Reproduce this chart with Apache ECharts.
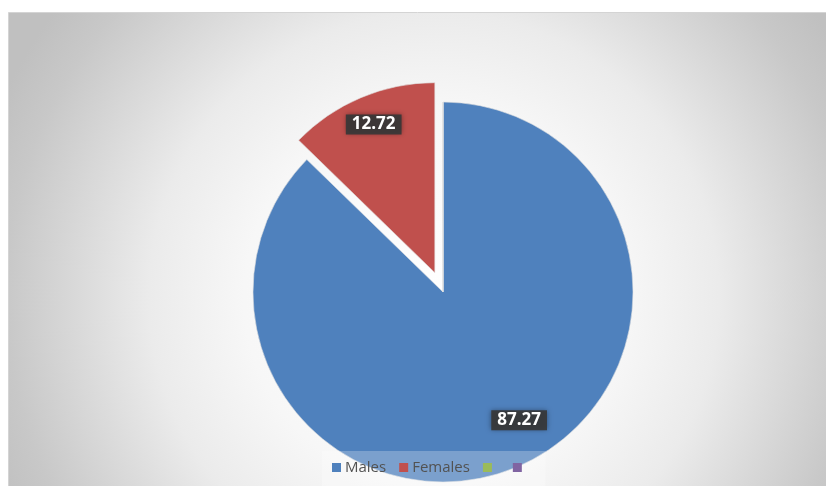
<!DOCTYPE html>
<html>
<head>
<meta charset="utf-8">
<script src="https://cdn.jsdelivr.net/npm/echarts@6/dist/echarts.min.js"></script>
<style>
  html, body { margin: 0; padding: 0; background: #ffffff; }
  #chart { width: 826px; height: 486px; }
</style>
</head>
<body>
<div id="chart"></div>
<script>
// Share of respondents by sex
const categories = ['Males', 'Females', ' ', '  '];
const shares = [87.27, 12.72, 0, 0];
const palette = ['#4F81BD', '#C0504D', '#9BBB59', '#8064A2'];
// label nudges (px) for the two visible slices
const labelNudge = [[38, 38], [-23, -58]];

const chart = echarts.init(document.getElementById('chart'), null, { renderer: 'canvas' });

const pieData = categories.map((name, i) => {
  const item = { name: name, value: shares[i], itemStyle: { color: palette[i] } };
  if (shares[i] === 0) {
    item.label = { show: false };
    item.labelLine = { show: false };
  }
  if (name === 'Females') item.selected = true;
  return item;
});

chart.setOption({
  animation: false,
  backgroundColor: '#ffffff',
  graphic: [{
    type: 'rect',
    left: 8,
    top: 12,
    z: -10,
    shape: { width: 818, height: 474 },
    style: {
      fill: {
        type: 'radial', x: 0.52, y: 0.6, r: 1.0,
        colorStops: [
          { offset: 0, color: '#ffffff' },
          { offset: 0.4, color: '#f7f7f7' },
          { offset: 0.6, color: '#ebebeb' },
          { offset: 0.9, color: '#c8c8c8' },
          { offset: 1, color: '#c0c0c0' }
        ]
      },
      stroke: '#d4d4d4',
      lineWidth: 1
    }
  }],
  legend: {
    data: categories,
    left: 322,
    top: 451,
    padding: [9, 12, 12, 10],
    backgroundColor: 'rgba(255,255,255,0.25)',
    itemWidth: 9,
    itemHeight: 9,
    itemGap: 13,
    icon: 'rect',
    selectedMode: false,
    itemStyle: { borderWidth: 0 },
    textStyle: { color: '#525252', fontSize: 15, fontFamily: 'Open Sans', padding: [0, 0, 0, -1] }
  },
  series: [{
    type: 'pie',
    center: [443, 292],
    radius: [0, 190],
    startAngle: 90,
    clockwise: true,
    selectedMode: 'single',
    selectedOffset: 21,
    emphasis: { disabled: true },
    itemStyle: { borderColor: 'rgba(225,225,225,0.6)', borderWidth: 1 },
    label: {
      show: true,
      position: 'inside',
      formatter: p => p.value.toFixed(2),
      color: '#ffffff',
      fontFamily: 'Open Sans',
      fontWeight: 'bold',
      fontSize: 17,
      backgroundColor: 'rgba(55,55,55,0.92)',
      padding: [2, 6, 1, 6],
      shadowColor: 'rgba(0,0,0,0.45)',
      shadowBlur: 5
    },
    labelLayout: function (params) {
      const n = labelNudge[params.dataIndex];
      return n ? { dx: n[0], dy: n[1] } : {};
    },
    data: pieData
  }]
});
</script>
</body>
</html>
